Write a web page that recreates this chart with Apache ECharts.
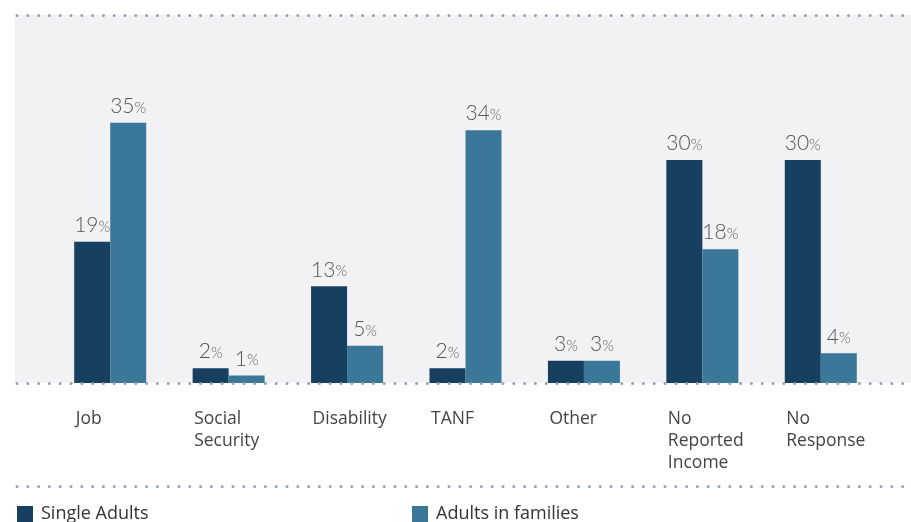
<!DOCTYPE html>
<html>
<head>
<meta charset="utf-8">
<script src="https://cdn.jsdelivr.net/npm/echarts@6/dist/echarts.min.js"></script>
<style>
html,body{margin:0;padding:0;background:#fff;}
#chart{width:911px;height:522px;}
</style>
</head>
<body>
<div id="chart"></div>
<script>
var categories = ['Job', 'Social\nSecurity', 'Disability', 'TANF', 'Other', 'No\nReported\nIncome', 'No\nResponse'];
var singleAdults = [19, 2, 13, 2, 3, 30, 30];
var adultsInFamilies = [35, 1, 5, 34, 3, 18, 4];
var seriesNames = ['Single Adults', 'Adults in families'];

var FONT = 'Lato, "Open Sans", sans-serif';
var TFONT = '"Open Sans", Lato, sans-serif';
var DOT = '#8fa3b5';

function dotted(y) {
  return {
    type: 'line', z: 100,
    shape: { x1: 17, y1: y, x2: 911, y2: y },
    style: { stroke: DOT, lineWidth: 3, lineDash: [0, 10.8], lineCap: 'round' }
  };
}

function valueLabel() {
  return {
    show: true, position: 'top', distance: 6,
    formatter: function (p) { return '{n|' + p.value + '}{p|%}'; },
    rich: {
      n: { fontFamily: FONT, fontSize: 21, color: '#555', fontWeight: 300 },
      p: { fontFamily: FONT, fontSize: 15, color: '#666', fontWeight: 300, padding: [3, 0, 0, 0] }
    }
  };
}

var chart = echarts.init(document.getElementById('chart'), null, { renderer: 'canvas' });
chart.setOption({
  animation: false,
  backgroundColor: '#fff',
  graphic: [
    { type: 'rect', z: -10, shape: { x: 15, y: 15, width: 896, height: 368 }, style: { fill: '#f2f2f4' } },
    dotted(15.5), dotted(383.5), dotted(486.5)
  ],
  grid: { left: 51, right: 31, top: 15, bottom: 139 },
  legend: [
    {
      data: [seriesNames[0]], left: 17, top: 505, padding: 0, itemWidth: 16, itemHeight: 16, itemGap: 8,
      icon: 'rect', textStyle: { fontFamily: TFONT, fontSize: 18, color: '#333', padding: [0, 0, 0, 3] }
    },
    {
      data: [seriesNames[1]], left: 412, top: 505, padding: 0, itemWidth: 16, itemHeight: 16, itemGap: 8,
      icon: 'rect', textStyle: { fontFamily: TFONT, fontSize: 18, color: '#333', padding: [0, 0, 0, 3] }
    }
  ],
  xAxis: {
    type: 'category', data: categories,
    axisLine: { show: false }, axisTick: { show: false },
    axisLabel: {
      interval: 0, margin: 25, align: 'center', verticalAlign: 'top',
      formatter: function (v) { return v.split('\n').map(function (s) { return '{a|' + s + '}'; }).join('\n'); },
      rich: { a: { width: 72, align: 'left', fontFamily: TFONT, fontSize: 17.5, color: '#444', lineHeight: 22, padding: [0, 0, 0, 3] } }
    }
  },
  yAxis: { type: 'value', min: 0, max: 49.5, show: false, splitLine: { show: false } },
  series: [
    { name: seriesNames[0], type: 'bar', data: singleAdults, barWidth: 36, barGap: '0%', itemStyle: { color: '#173f60' }, label: valueLabel() },
    { name: seriesNames[1], type: 'bar', data: adultsInFamilies, barWidth: 36, barGap: '0%', itemStyle: { color: '#3b7799' }, label: valueLabel() }
  ]
});
</script>
</body>
</html>
